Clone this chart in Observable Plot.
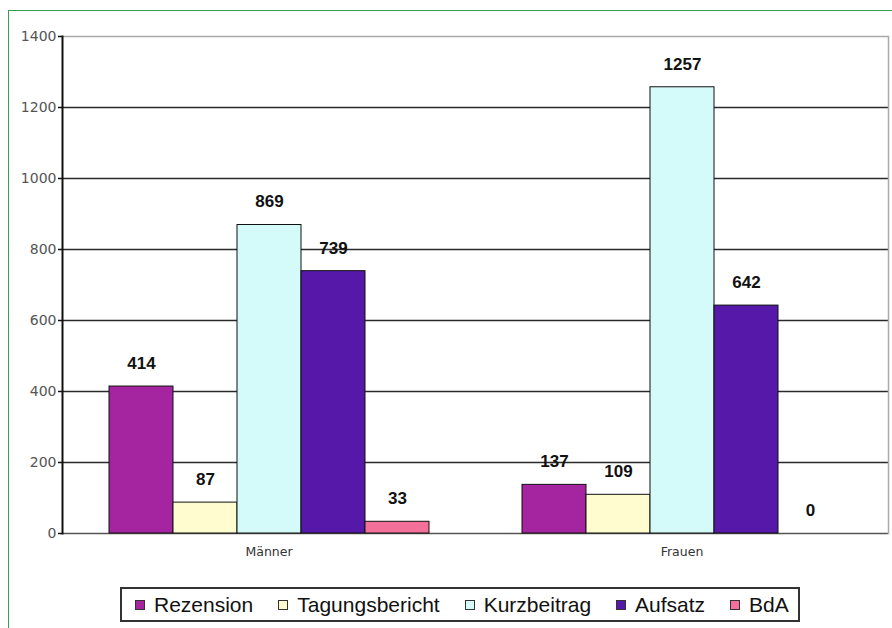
<!DOCTYPE html>
<html>
<head>
<meta charset="utf-8">
<script src="https://cdn.jsdelivr.net/npm/d3@7"></script>
<script src="https://cdn.jsdelivr.net/npm/@observablehq/plot@0.6"></script>
<style>
  html, body { margin: 0; padding: 0; background: #fff; }
  #wrap { position: relative; width: 892px; height: 628px; overflow: hidden; background: #fff; }
  #border { position: absolute; left: 8px; top: 10px; width: 900px; height: 640px; border: 1.5px solid #3a9b55; box-sizing: border-box; }
  #chart { position: absolute; left: 0; top: 0; }
  #legend { position: absolute; left: 120px; top: 587px; width: 680px; height: 35px; box-sizing: border-box;
            border: 2px solid #333; background: #fff; display: flex; align-items: center; gap: 25px;
            padding-left: 13px; font-family: "Liberation Sans", Arial, sans-serif; font-size: 21px; color: #111; }
  .item { display: flex; align-items: center; gap: 9px; white-space: nowrap; }
  .sw { width: 8px; height: 8px; border: 1.5px solid #333; }
</style>
</head>
<body>
<div id="wrap">
  <div id="border"></div>
  <div id="chart"></div>
  <div id="legend"></div>
</div>
<script>
const groups = ["Männer", "Frauen"];
const series = ["Rezension", "Tagungsbericht", "Kurzbeitrag", "Aufsatz", "BdA"];
const maennerValues = [414, 87, 869, 739, 33];
const frauenValues = [137, 109, 1257, 642, 0];
const colors = ["#a524a0", "#fffdd0", "#d4fafa", "#5618a8", "#f2709a"];
const yTicks = [0, 200, 400, 600, 800, 1000, 1200, 1400];

const valuesByGroup = {"Männer": maennerValues, "Frauen": frauenValues};
const data = [];
for (const g of groups) series.forEach((s, i) => data.push({group: g, series: s, value: valuesByGroup[g][i]}));

const innerTicks = yTicks.filter(t => t > 0 && t < 1400);

const chart = Plot.plot({
  width: 892,
  height: 570,
  marginLeft: 61,
  marginRight: 4,
  marginTop: 36,
  marginBottom: 37,
  style: {fontFamily: "DejaVu Sans, sans-serif", fontSize: "12px", background: "transparent"},
  fx: {domain: groups, padding: 0, axis: null},
  x: {domain: series, paddingInner: 0, paddingOuter: 0.716, axis: null},
  y: {domain: [0, 1400], axis: null},
  color: {domain: series, range: colors},
  marks: [
    Plot.ruleY(innerTicks, {stroke: "#2a2a2a", strokeWidth: 1.5}),
    Plot.ruleY([1400], {stroke: "#aaaaaa", strokeWidth: 1.5}),
    Plot.ruleY([0], {stroke: "#555", strokeWidth: 1.5}),
    Plot.barY(data, {fx: "group", x: "series", y: "value", fill: "series", stroke: "#111", strokeWidth: 1}),
    Plot.frame({anchor: "right", facetAnchor: "right", stroke: "#aaaaaa", strokeWidth: 1.5}),
    Plot.frame({anchor: "left", facetAnchor: "left", stroke: "#111", strokeWidth: 2}),
    Plot.axisY({anchor: "left", ticks: yTicks, tickSize: 4, tickPadding: 2, stroke: "#111",
                strokeWidth: 1.5, fill: "#555", fontSize: 14, label: null, tickFormat: d => String(d)}),
    Plot.axisFx({anchor: "bottom", tickSize: 0, tickPadding: 14, fill: "#333", fontSize: 12.5, label: null}),
    Plot.text(data, {fx: "group", x: "series", y: "value", text: d => String(d.value), dy: -23,
                     fontFamily: "Liberation Sans, Arial, sans-serif", fontWeight: "bold", fontSize: 17, fill: "#111"})
  ]
});
document.getElementById("chart").appendChild(chart);

const legend = document.getElementById("legend");
series.forEach((s, i) => {
  const item = document.createElement("div");
  item.className = "item";
  const sw = document.createElement("div");
  sw.className = "sw";
  sw.style.background = colors[i];
  const t = document.createElement("span");
  t.textContent = s;
  item.appendChild(sw);
  item.appendChild(t);
  legend.appendChild(item);
});
</script>
</body>
</html>
